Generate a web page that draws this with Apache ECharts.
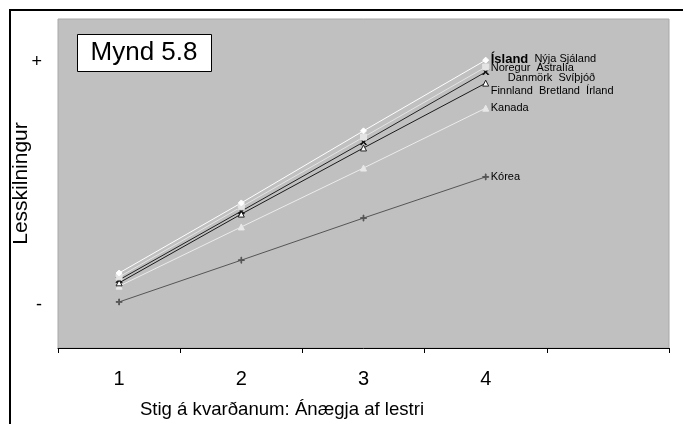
<!DOCTYPE html>
<html>
<head>
<meta charset="utf-8">
<script src="https://cdn.jsdelivr.net/npm/echarts@6/dist/echarts.min.js"></script>
<style>html,body{margin:0;padding:0;background:#fff;}#c{width:683px;height:424px;}</style>
</head>
<body>
<div id="c"></div>
<script>
const categories = ['1', '2', '3', '4', ''];
const island   = [22.8, 44.1, 66.0, 87.5];
const noregur  = [21.6, 42.9, 64.1, 85.4];
const danmork  = [20.7, 41.6, 62.6, 83.9];
const finnland = [19.8, 40.7, 60.8, 80.5];
const kanada   = [18.8, 36.8, 54.7, 72.9];
const korea    = [14.0, 26.7, 39.5, 52.0];
const yTickValues = [13, 87];
const yTickLabels = ['-', '+'];

const F = 'Liberation Sans, Arial, sans-serif';
function ser(name, data, lineColor, symbol, symColor, symBorder, label, offset, rich) {
  return {
    name, type: 'line', data, symbol, symbolSize: 6,
    lineStyle: { color: lineColor, width: 1 },
    itemStyle: { color: symColor, borderColor: symBorder, borderWidth: 1 },
    emphasis: { disabled: true },
    endLabel: {
      show: true, formatter: label, distance: 5, offset: offset || [0, 0],
      fontFamily: F, fontSize: 11, color: '#000', rich: rich
    }
  };
}
const chart = echarts.init(document.getElementById('c'));
chart.setOption({
  animation: false,
  grid: { left: 58, top: 19, right: 14, bottom: 76, containLabel: false, outerBoundsMode: 'none',
    show: true, backgroundColor: '#c0c0c0', borderColor: '#a8a8a8', borderWidth: 1 },
  xAxis: {
    type: 'category', data: categories, boundaryGap: true,
    axisLine: { lineStyle: { color: '#000', width: 1 } },
    axisTick: { show: true, length: 5, lineStyle: { color: '#000' } },
    axisLabel: { fontFamily: F, fontSize: 20, color: '#000', margin: 21 },
    name: 'Stig á kvarðanum: Ánægja af lestri', nameLocation: 'middle', nameGap: 52, nameMoveOverlap: false,
    nameTextStyle: { fontFamily: F, fontSize: 18.6, color: '#000', padding: [0, 163, 0, 0] }
  },
  yAxis: {
    type: 'value', min: 0, max: 100,
    axisLine: { show: false }, axisTick: { show: false }, splitLine: { show: false },
    axisLabel: {
      customValues: yTickValues, fontFamily: F, fontSize: 18, color: '#000', margin: 16,
      formatter: v => yTickLabels[yTickValues.indexOf(v)]
    },
    name: 'Lesskilningur', nameLocation: 'middle', nameGap: 26, nameMoveOverlap: false,
    nameTextStyle: { fontFamily: F, fontSize: 21, color: '#000' }
  },
  series: [
    ser('Kórea', korea, '#555555', 'path://M-0.6,-5H0.6V-0.6H5V0.6H0.6V5H-0.6V0.6H-5V-0.6H-0.6Z', '#555555', '#555555', 'Kórea'),
    ser('Kanada', kanada, '#ececec', 'triangle', '#e8e8e8', '#e8e8e8', 'Kanada'),
    ser('Finnland', finnland, '#1a1a1a', 'triangle', '#ffffff', '#222', 'Finnland  Bretland  Írland', [0, 8]),
    ser('Danmörk', danmork, '#222222', 'path://M-4,-5L0,-1L4,-5L5,-4L1,0L5,4L4,5L0,1L-4,5L-5,4L-1,0L-5,-4Z', '#111', '#111', 'Danmörk  Svíþjóð', [17, 6]),
    ser('Noregur', noregur, '#e4e4e4', 'rect', '#e4e4e4', '#e4e4e4', 'Noregur  Ástralía', [0, 1]),
    ser('Ísland', island, '#ffffff', 'diamond', '#ffffff', '#ffffff', '{b|Ísland}  Nýja Sjáland', [0, -1],
      { b: { fontFamily: F, fontSize: 13, fontWeight: 'bold', color: '#000' } })
  ],
  graphic: [
    { type: 'rect', shape: { x: 10, y: 10, width: 700, height: 450 }, style: { fill: 'none', stroke: '#000', lineWidth: 2 }, silent: true },
    { type: 'rect', shape: { x: 77.5, y: 34.5, width: 134, height: 37 }, style: { fill: '#fff', stroke: '#000', lineWidth: 1 }, z: 10 },
    { type: 'text', x: 144, y: 53, style: { text: 'Mynd 5.8', font: '26px Liberation Sans, Arial, sans-serif', fill: '#000', align: 'center', verticalAlign: 'middle' }, z: 11 }
  ]
});
</script>
</body>
</html>
